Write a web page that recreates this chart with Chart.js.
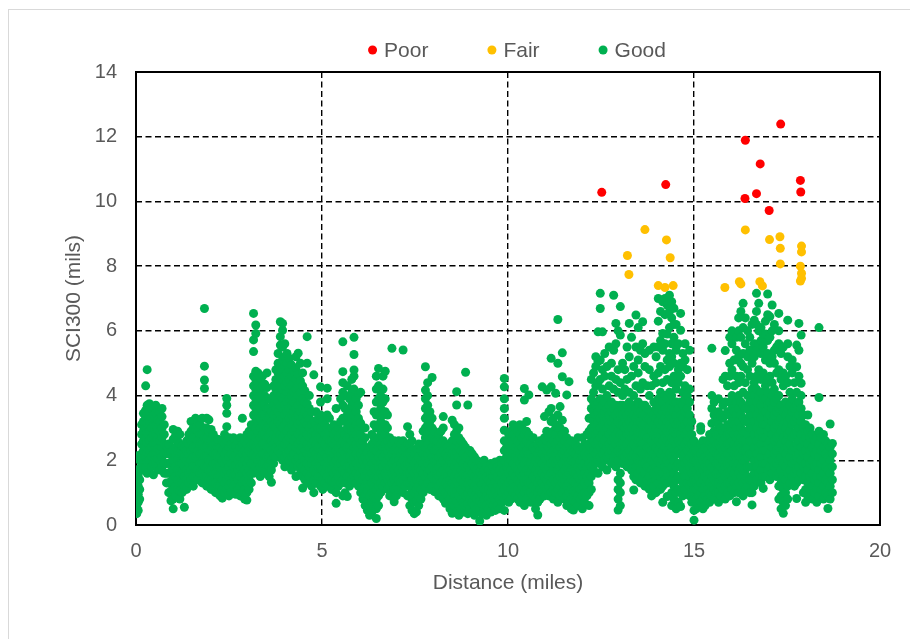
<!DOCTYPE html>
<html lang="en">
<head>
  <meta charset="UTF-8">
  <title>SCI300 vs Distance</title>
  <style>
    html, body {
      margin: 0;
      padding: 0;
      background: #fff;
    }
    body {
      width: 910px;
      height: 639px;
      position: relative;
      overflow: hidden;
    }
    .frame {
      position: absolute;
      left: 8px;
      top: 9px;
      width: 960px;
      height: 700px;
      border: 1px solid #d9d9d9;
    }
    #chart {
      position: absolute;
      left: 0;
      top: 0;
    }
  </style>
  <script src="https://cdn.jsdelivr.net/npm/chart.js"></script>
</head>
<body>
  <div class="frame"></div>
  <canvas id="chart" width="910" height="639"></canvas>

  <script>
    // axis ticks
    const xTicks = [0, 5, 10, 15, 20];
    const yTicks = [0, 2, 4, 6, 8, 10, 12, 14];

    // Poor (SCI300 > ~9.7)
    const poorX = [12.52, 14.24, 17.33, 16.38, 16.78, 17.86, 17.87, 16.37, 16.68, 17.02];
    const poorY = [10.28, 10.52, 12.39, 11.89, 11.16, 10.65, 10.29, 10.09, 10.24, 9.72];

    // Fair
    const fairX = [13.68, 14.26, 13.21, 14.36, 13.25, 14.04, 14.44, 14.22, 16.38, 17.03, 17.31, 17.32,
                   17.32, 17.89, 17.89, 17.86, 17.89, 17.86, 15.83, 16.22, 16.26, 16.77, 16.84, 17.89];
    const fairY = [9.13, 8.81, 8.33, 8.26, 7.74, 7.40, 7.40, 7.34, 9.12, 8.82, 8.91, 8.55,
                   8.07, 8.62, 8.44, 8.00, 7.78, 7.54, 7.34, 7.52, 7.45, 7.52, 7.39, 7.62];

    // Good: each row is [distance, SCI300 readings at that distance...]
    const goodCols = [
      [0.02, 0.35, 0.55, 0.8, 1.05, 1.3],
      [0.06, 0.45, 0.7, 0.95, 1.2, 1.55, 2.15],
      [0.10, 0.8, 1.1, 1.4, 1.75, 2.0],
      [0.15, 1.9, 2.2, 2.5, 2.8, 3.1],
      [0.20, 1.7, 2.0, 2.3, 2.6, 2.9, 3.2, 3.45],
      [0.26, 1.8, 2.1, 2.4, 2.7, 3.0, 3.3, 3.55, 4.3],
      [0.30, 1.6, 1.95, 2.25, 2.55, 2.85, 3.15, 3.45, 3.7, 4.8],
      [0.36, 2.0, 2.3, 2.6, 2.9, 3.2, 3.5, 3.75],
      [0.42, 1.8, 2.1, 2.4, 2.7, 3.0, 3.3, 3.6],
      [0.47, 1.55, 1.9, 2.2, 2.5, 2.8, 3.1, 3.4, 3.65],
      [0.53, 1.9, 2.2, 2.5, 2.8, 3.1, 3.45, 3.7],
      [0.58, 1.75, 2.05, 2.35, 2.65, 2.95, 3.25, 3.55],
      [0.64, 1.7, 2.0, 2.3, 2.6, 2.9, 3.2, 3.5],
      [0.70, 1.8, 2.1, 2.4, 2.7, 3.0, 3.35, 3.6],
      [0.76, 1.6, 1.9, 2.2, 2.5, 2.8, 3.1],
      [0.82, 1.3, 1.6, 1.9, 2.2, 2.45],
      [0.88, 1.0, 1.3, 1.6, 1.9, 2.2, 2.5],
      [0.94, 0.75, 1.05, 1.35, 1.65, 1.95, 2.25],
      [1.00, 0.5, 0.8, 1.1, 1.4, 1.7, 2.0, 2.3, 2.65, 2.95],
      [1.06, 0.9, 1.2, 1.5, 1.8, 2.1, 2.4, 2.75],
      [1.12, 1.1, 1.4, 1.7, 2.0, 2.3, 2.6, 2.9],
      [1.18, 0.8, 1.05, 1.3, 1.6, 1.9, 2.2, 2.5, 2.8],
      [1.24, 1.0, 1.3, 1.6, 1.9, 2.2, 2.45],
      [1.30, 0.55, 1.2, 1.5, 1.8, 2.1, 2.4],
      [1.36, 1.1, 1.4, 1.7, 2.0, 2.3, 2.6],
      [1.42, 1.3, 1.6, 1.9, 2.2, 2.5, 2.8],
      [1.48, 1.4, 1.7, 2.0, 2.3, 2.6, 2.9, 3.2],
      [1.54, 1.2, 1.5, 1.8, 2.1, 2.4, 2.7, 3.0],
      [1.60, 1.5, 1.8, 2.1, 2.4, 2.7, 3.0, 3.3],
      [1.66, 1.4, 1.7, 2.0, 2.3, 2.6, 2.9, 3.2],
      [1.72, 1.6, 1.9, 2.2, 2.5, 2.8, 3.1],
      [1.78, 1.3, 1.6, 1.9, 2.2, 2.5, 2.8, 3.3],
      [1.84, 1.5, 1.8, 2.1, 2.4, 2.7, 3.0, 4.22, 4.48, 4.91, 6.69],
      [1.90, 1.2, 1.5, 1.8, 2.1, 2.4, 2.7, 3.0, 3.3],
      [1.96, 1.4, 1.7, 2.0, 2.3, 2.6, 2.9, 3.25],
      [2.02, 1.1, 1.4, 1.7, 2.0, 2.3, 2.6, 2.95],
      [2.08, 1.3, 1.6, 1.9, 2.2, 2.5, 2.8],
      [2.14, 1.0, 1.3, 1.6, 1.9, 2.2, 2.5],
      [2.20, 1.2, 1.5, 1.8, 2.1, 2.4, 2.65],
      [2.26, 0.9, 1.2, 1.5, 1.8, 2.1, 2.4],
      [2.32, 0.83, 1.1, 1.4, 1.7, 2.0, 2.3, 2.6],
      [2.38, 1.0, 1.3, 1.6, 1.9, 2.2, 2.5, 2.8],
      [2.44, 1.1, 1.4, 1.7, 2.0, 2.3, 2.6, 3.04, 3.45, 3.7, 3.91],
      [2.50, 0.9, 1.2, 1.5, 1.8, 2.1, 2.4, 2.7],
      [2.56, 1.0, 1.3, 1.6, 1.9, 2.2, 2.5],
      [2.62, 1.2, 1.5, 1.8, 2.1, 2.4, 2.7],
      [2.68, 0.95, 1.25, 1.55, 1.85, 2.15, 2.45],
      [2.74, 1.1, 1.4, 1.7, 2.0, 2.3, 2.6],
      [2.80, 0.9, 1.2, 1.5, 1.8, 2.1, 2.4, 2.7],
      [2.86, 1.0, 1.3, 1.6, 1.9, 2.2, 2.5, 3.3],
      [2.92, 0.8, 1.1, 1.4, 1.7, 2.0, 2.3, 2.6],
      [2.98, 0.77, 1.0, 1.3, 1.6, 1.9, 2.2, 2.5, 2.8],
      [3.04, 1.1, 1.4, 1.7, 2.0, 2.3, 2.6, 2.9],
      [3.10, 1.3, 1.6, 1.9, 2.2, 2.5, 2.8, 3.1],
      [3.16, 1.6, 1.9, 2.2, 2.5, 2.8, 3.1, 3.4, 3.7, 4.0, 4.3, 4.6, 5.36, 5.72, 6.54],
      [3.22, 1.8, 2.1, 2.4, 2.7, 3.0, 3.3, 3.6, 3.9, 4.2, 4.5, 4.75, 5.92, 6.18],
      [3.28, 1.7, 2.0, 2.3, 2.6, 2.9, 3.2, 3.5, 3.8, 4.1, 4.4, 4.7],
      [3.34, 1.5, 1.8, 2.1, 2.4, 2.7, 3.0, 3.3, 3.6, 3.9, 4.2, 4.55],
      [3.40, 1.9, 2.2, 2.5, 2.8, 3.1, 3.4, 3.7, 4.0, 4.3, 4.6],
      [3.46, 1.6, 1.9, 2.2, 2.5, 2.8, 3.1, 3.4, 3.7, 4.0, 4.35],
      [3.52, 1.8, 2.1, 2.4, 2.7, 3.0, 3.3, 3.6, 3.9, 4.25, 4.7],
      [3.58, 1.5, 1.8, 2.1, 2.4, 2.7, 3.0, 3.3, 3.6, 3.9],
      [3.64, 1.32, 1.7, 2.0, 2.3, 2.6, 2.9, 3.2, 3.5, 3.85],
      [3.70, 1.9, 2.2, 2.5, 2.8, 3.1, 3.4, 3.7, 4.0, 4.3],
      [3.76, 2.1, 2.4, 2.7, 3.0, 3.3, 3.6, 3.9, 4.2, 4.5, 4.8],
      [3.82, 2.3, 2.6, 2.9, 3.2, 3.5, 3.8, 4.1, 4.4, 4.7, 5.0, 5.3],
      [3.88, 2.2, 2.5, 2.8, 3.1, 3.4, 3.7, 4.0, 4.3, 4.6, 4.9, 5.56, 5.82, 6.28],
      [3.94, 2.0, 2.4, 2.7, 3.0, 3.3, 3.6, 3.9, 4.2, 4.5, 4.8, 5.1, 5.5, 6.02, 6.23],
      [4.00, 1.8, 2.1, 2.5, 2.8, 3.1, 3.4, 3.7, 4.0, 4.3, 4.6, 4.9, 5.2, 5.6],
      [4.06, 1.9, 2.2, 2.6, 2.9, 3.2, 3.5, 3.8, 4.1, 4.4, 4.7, 5.0, 5.3],
      [4.12, 2.0, 2.3, 2.7, 3.0, 3.3, 3.6, 3.9, 4.2, 4.5, 4.8, 5.15],
      [4.18, 1.7, 2.1, 2.4, 2.8, 3.1, 3.4, 3.7, 4.0, 4.3, 4.6, 4.95],
      [4.24, 1.9, 2.2, 2.6, 2.9, 3.2, 3.5, 3.8, 4.1, 4.4, 4.75],
      [4.30, 1.5, 2.0, 2.4, 2.7, 3.0, 3.3, 3.6, 3.9, 4.2, 4.5, 4.85, 5.2],
      [4.36, 1.8, 2.1, 2.5, 2.8, 3.1, 3.4, 3.7, 4.0, 4.3, 4.65, 5.31],
      [4.42, 1.6, 1.9, 2.3, 2.6, 2.9, 3.2, 3.5, 3.8, 4.1, 4.45, 5.0],
      [4.48, 1.14, 1.5, 1.8, 2.1, 2.4, 2.7, 3.0, 3.3, 3.6, 3.9, 4.3, 4.7],
      [4.54, 1.4, 1.7, 2.0, 2.3, 2.6, 2.9, 3.2, 3.5, 3.8, 4.15],
      [4.60, 1.3, 1.6, 1.9, 2.2, 2.5, 2.8, 3.1, 3.4, 3.75, 5.0, 5.82],
      [4.66, 1.5, 1.8, 2.1, 2.4, 2.7, 3.0, 3.3, 3.6, 4.0],
      [4.72, 1.2, 1.6, 1.9, 2.2, 2.5, 2.8, 3.1, 3.5],
      [4.78, 1.0, 1.4, 1.7, 2.0, 2.3, 2.6, 2.9, 3.2, 4.64],
      [4.84, 1.3, 1.6, 1.9, 2.2, 2.5, 2.8, 3.1, 3.5],
      [4.90, 1.5, 1.8, 2.1, 2.4, 2.7, 3.0, 3.3],
      [4.96, 1.2, 1.5, 1.8, 2.1, 2.4, 2.7, 3.0, 3.4, 3.8, 4.27],
      [5.02, 1.1, 1.4, 1.7, 2.0, 2.3, 2.6, 2.9, 3.2],
      [5.08, 1.3, 1.6, 1.9, 2.2, 2.5, 2.8, 3.1],
      [5.14, 1.2, 1.5, 1.8, 2.1, 2.4, 2.7, 3.0, 3.4, 3.9, 4.23],
      [5.20, 1.4, 1.7, 2.0, 2.3, 2.6, 2.9, 3.3],
      [5.26, 1.1, 1.4, 1.7, 2.0, 2.3, 2.6, 3.0],
      [5.32, 1.3, 1.6, 1.9, 2.2, 2.5, 2.8, 3.1],
      [5.38, 0.67, 1.0, 1.4, 1.7, 2.0, 2.3, 2.6, 2.9, 3.6],
      [5.44, 1.2, 1.5, 1.8, 2.1, 2.4, 2.7, 3.0],
      [5.50, 1.3, 1.6, 1.9, 2.2, 2.5, 2.8, 3.2, 3.9],
      [5.56, 0.9, 1.4, 1.7, 2.0, 2.3, 2.6, 2.9, 3.3, 3.7, 4.1, 4.4, 4.74, 5.66],
      [5.62, 1.0, 1.3, 1.6, 1.9, 2.2, 2.5, 2.8, 3.2, 3.6, 4.0],
      [5.68, 0.88, 1.5, 1.8, 2.1, 2.4, 2.7, 3.0, 3.4, 4.3],
      [5.74, 1.2, 1.5, 1.8, 2.1, 2.4, 2.7, 3.1, 3.5, 3.9],
      [5.80, 1.4, 1.7, 2.0, 2.3, 2.6, 2.9, 3.3, 3.7, 4.1, 4.5],
      [5.86, 1.5, 1.8, 2.1, 2.4, 2.7, 3.0, 3.4, 3.8, 4.2, 4.6, 4.79, 5.27, 5.8],
      [5.92, 1.3, 1.6, 1.9, 2.2, 2.5, 2.8, 3.1, 3.5, 3.9],
      [5.98, 1.2, 1.5, 1.8, 2.1, 2.4, 2.7, 3.0, 3.3, 3.7, 4.05],
      [6.04, 1.0, 1.3, 1.6, 1.9, 2.2, 2.5, 2.8, 3.15, 4.1],
      [6.10, 0.8, 1.1, 1.4, 1.7, 2.0, 2.3, 2.6],
      [6.16, 0.6, 0.9, 1.2, 1.5, 1.8, 2.1, 2.4, 2.7, 3.0],
      [6.22, 0.45, 0.75, 1.05, 1.35, 1.65, 1.95, 2.25],
      [6.28, 0.3, 0.6, 0.9, 1.2, 1.5, 1.8, 2.1, 2.4],
      [6.34, 0.4, 0.7, 1.0, 1.3, 1.6, 1.9, 2.2, 2.5, 2.8],
      [6.40, 0.55, 0.85, 1.15, 1.45, 1.75, 2.05, 2.35, 2.7, 3.1, 3.5],
      [6.46, 0.2, 0.5, 0.8, 1.1, 1.4, 1.7, 2.0, 2.3, 2.6, 3.0, 3.4, 3.8, 4.2, 4.6],
      [6.52, 0.6, 0.9, 1.2, 1.5, 1.8, 2.1, 2.4, 2.7, 3.1, 3.5, 3.9, 4.3, 4.84],
      [6.58, 1.0, 1.3, 1.6, 1.9, 2.2, 2.5, 2.8, 3.2, 3.6, 4.0],
      [6.64, 1.2, 1.5, 1.8, 2.1, 2.4, 2.7, 3.0, 3.4, 3.8, 4.2, 4.6],
      [6.70, 1.3, 1.6, 1.9, 2.2, 2.5, 2.8, 3.1, 3.5, 3.9, 4.75],
      [6.76, 1.1, 1.4, 1.7, 2.0, 2.3, 2.6, 3.0, 3.4],
      [6.82, 0.9, 1.2, 1.5, 1.8, 2.1, 2.4, 2.7],
      [6.88, 1.0, 1.3, 1.6, 1.9, 2.2, 2.5, 5.46],
      [6.94, 0.72, 1.1, 1.4, 1.7, 2.0, 2.3, 2.6],
      [7.00, 0.9, 1.2, 1.5, 1.8, 2.1, 2.4],
      [7.06, 1.1, 1.4, 1.7, 2.0, 2.3, 2.6],
      [7.12, 1.3, 1.6, 1.9, 2.2, 2.5],
      [7.18, 1.0, 1.4, 1.7, 2.0, 2.3, 2.6, 5.41],
      [7.24, 1.2, 1.5, 1.8, 2.1, 2.4],
      [7.30, 0.9, 1.3, 1.6, 1.9, 2.2, 2.5, 3.04],
      [7.36, 0.6, 0.95, 1.3, 1.6, 1.9, 2.2, 2.5, 2.8],
      [7.42, 0.45, 0.8, 1.1, 1.4, 1.7, 2.0, 2.3, 2.6],
      [7.48, 0.35, 0.7, 1.0, 1.3, 1.6, 1.9, 2.2],
      [7.54, 0.41, 0.75, 1.1, 1.4, 1.7, 2.0, 2.35],
      [7.60, 0.6, 0.9, 1.2, 1.5, 1.8, 2.1, 2.5],
      [7.66, 0.8, 1.1, 1.4, 1.7, 2.0, 2.3],
      [7.72, 1.0, 1.3, 1.6, 1.9, 2.2, 2.5, 2.9],
      [7.78, 1.2, 1.5, 1.8, 2.1, 2.4, 2.7, 3.0, 3.3, 3.6, 3.9, 4.17, 4.89],
      [7.84, 1.3, 1.6, 1.9, 2.2, 2.5, 2.8, 3.1, 3.4, 3.7, 4.0, 4.4],
      [7.90, 1.1, 1.4, 1.7, 2.0, 2.3, 2.6, 2.9, 3.2, 3.5],
      [7.96, 1.2, 1.5, 1.8, 2.1, 2.4, 2.7, 3.0, 3.3, 4.56],
      [8.02, 1.03, 1.4, 1.7, 2.0, 2.3, 2.6, 2.9],
      [8.08, 1.08, 1.4, 1.7, 2.0, 2.3, 2.6],
      [8.14, 0.9, 1.2, 1.5, 1.8, 2.1, 2.4, 2.8],
      [8.20, 1.0, 1.3, 1.6, 1.9, 2.2, 2.5, 2.9],
      [8.26, 0.8, 1.1, 1.4, 1.7, 2.0, 2.3, 2.6, 3.0, 3.35],
      [8.32, 0.67, 1.0, 1.3, 1.6, 1.9, 2.2, 2.5],
      [8.38, 0.9, 1.2, 1.5, 1.8, 2.1, 2.4],
      [8.44, 0.5, 0.8, 1.1, 1.4, 1.7, 2.0, 2.3],
      [8.50, 0.36, 0.7, 1.0, 1.3, 1.6, 1.9, 2.2, 2.6, 3.24],
      [8.56, 0.6, 0.9, 1.2, 1.5, 1.8, 2.1, 2.4, 2.8, 3.1],
      [8.62, 0.4, 0.75, 1.05, 1.35, 1.65, 1.95, 2.25, 2.6, 2.9, 3.71, 4.12],
      [8.68, 0.3, 0.6, 0.9, 1.2, 1.5, 1.8, 2.1, 2.4, 2.7, 3.0],
      [8.74, 0.5, 0.8, 1.1, 1.4, 1.7, 2.0, 2.3, 2.6],
      [8.80, 0.4, 0.7, 1.0, 1.3, 1.6, 1.9, 2.2, 2.5],
      [8.86, 0.6, 0.9, 1.2, 1.5, 1.8, 2.1, 2.4, 4.72],
      [8.92, 0.35, 0.65, 0.95, 1.25, 1.55, 1.85, 2.15, 3.71],
      [8.98, 0.5, 0.8, 1.1, 1.4, 1.7, 2.0, 2.3],
      [9.04, 0.4, 0.7, 1.0, 1.3, 1.6, 1.9, 2.2],
      [9.10, 0.3, 0.6, 0.9, 1.2, 1.5, 1.8, 2.1],
      [9.16, 0.5, 0.8, 1.1, 1.4, 1.7, 2.0],
      [9.24, 0.12, 0.45, 0.75, 1.05, 1.35, 1.65, 1.95],
      [9.30, 0.35, 0.65, 0.95, 1.25, 1.55, 1.85],
      [9.36, 0.5, 0.8, 1.1, 1.4, 1.7, 2.0],
      [9.42, 0.3, 0.6, 0.9, 1.2, 1.5, 1.8],
      [9.48, 0.5, 0.8, 1.1, 1.4, 1.7],
      [9.54, 0.4, 0.7, 1.0, 1.3, 1.6, 1.9],
      [9.60, 0.6, 0.9, 1.2, 1.5, 1.8],
      [9.66, 0.45, 0.75, 1.05, 1.35, 1.65, 1.95],
      [9.72, 0.6, 0.9, 1.2, 1.5, 1.8],
      [9.78, 0.5, 0.8, 1.1, 1.4, 1.7, 2.0],
      [9.84, 0.7, 1.0, 1.3, 1.6, 1.9],
      [9.90, 0.45, 0.8, 1.1, 1.4, 1.7, 2.0, 2.3, 2.6, 2.93, 3.3, 3.6, 3.9, 4.27, 4.53],
      [9.96, 0.9, 1.2, 1.5, 1.8, 2.1, 2.4],
      [10.02, 0.7, 1.0, 1.3, 1.6, 1.9, 2.2, 2.5, 2.8],
      [10.08, 0.8, 1.1, 1.4, 1.7, 2.0, 2.3, 2.6, 2.9],
      [10.14, 1.0, 1.3, 1.6, 1.9, 2.2, 2.5, 2.8, 3.1],
      [10.20, 0.9, 1.2, 1.5, 1.8, 2.1, 2.4, 2.7, 3.0],
      [10.26, 0.8, 1.1, 1.4, 1.7, 2.0, 2.3, 2.6, 2.9],
      [10.32, 0.7, 1.0, 1.3, 1.6, 1.9, 2.2, 2.5, 2.8, 3.1],
      [10.38, 0.9, 1.2, 1.5, 1.8, 2.1, 2.4, 2.7, 3.0],
      [10.44, 0.6, 1.0, 1.3, 1.6, 1.9, 2.2, 2.5, 2.8, 3.86, 4.22],
      [10.50, 0.8, 1.1, 1.4, 1.7, 2.0, 2.3, 2.6, 2.9, 3.2],
      [10.56, 1.0, 1.3, 1.6, 1.9, 2.2, 2.5, 2.8, 4.02],
      [10.62, 0.7, 1.0, 1.3, 1.6, 1.9, 2.2, 2.5],
      [10.68, 0.9, 1.2, 1.5, 1.8, 2.1, 2.4, 2.7],
      [10.74, 0.5, 0.8, 1.1, 1.4, 1.7, 2.0, 2.3],
      [10.80, 0.31, 0.7, 1.0, 1.3, 1.6, 1.9, 2.2, 2.5],
      [10.86, 0.8, 1.1, 1.4, 1.7, 2.0, 2.3, 2.6],
      [10.92, 1.0, 1.3, 1.6, 1.9, 2.2, 2.5, 4.27],
      [10.98, 0.9, 1.2, 1.5, 1.8, 2.1, 2.4, 2.7, 3.35],
      [11.04, 1.1, 1.4, 1.7, 2.0, 2.3, 2.6, 2.9, 4.17],
      [11.10, 0.9, 1.2, 1.5, 1.8, 2.1, 2.4, 2.7, 3.5],
      [11.16, 1.0, 1.3, 1.6, 1.9, 2.2, 2.5, 2.8, 3.2, 3.6, 4.27, 5.15],
      [11.22, 0.8, 1.1, 1.4, 1.7, 2.0, 2.3, 2.6, 2.9, 3.3],
      [11.28, 1.0, 1.3, 1.6, 1.9, 2.2, 2.5, 2.8, 3.1, 4.07],
      [11.34, 0.7, 1.1, 1.4, 1.7, 2.0, 2.3, 2.6, 3.0, 3.4, 5.0, 6.35],
      [11.40, 0.9, 1.2, 1.5, 1.8, 2.1, 2.4, 2.7, 3.0, 3.66],
      [11.46, 1.0, 1.3, 1.6, 1.9, 2.2, 2.5, 2.8, 3.24, 4.58, 5.32],
      [11.52, 0.8, 1.1, 1.4, 1.7, 2.0, 2.3, 2.6, 2.9],
      [11.58, 0.6, 0.9, 1.2, 1.5, 1.8, 2.1, 2.4, 2.7, 4.02],
      [11.64, 0.7, 1.0, 1.3, 1.6, 1.9, 2.2, 2.5, 4.43],
      [11.70, 0.5, 0.8, 1.1, 1.4, 1.7, 2.0, 2.3, 2.6],
      [11.76, 0.46, 0.75, 1.05, 1.35, 1.65, 1.95, 2.25],
      [11.82, 0.7, 1.0, 1.3, 1.6, 1.9, 2.2, 2.5],
      [11.88, 0.6, 0.9, 1.2, 1.5, 1.8, 2.1, 2.4, 2.7],
      [11.94, 0.8, 1.1, 1.4, 1.7, 2.0, 2.3],
      [12.00, 0.5, 0.9, 1.2, 1.5, 1.8, 2.1, 2.4, 2.7],
      [12.06, 0.7, 1.0, 1.3, 1.6, 1.9, 2.2, 2.5],
      [12.12, 0.9, 1.2, 1.5, 1.8, 2.1, 2.4, 2.8],
      [12.18, 0.6, 1.0, 1.3, 1.6, 1.9, 2.2, 2.5, 2.9, 3.3],
      [12.24, 1.1, 1.5, 1.8, 2.1, 2.4, 2.7, 3.0, 3.3, 3.6, 3.9, 4.5],
      [12.30, 1.7, 2.0, 2.3, 2.6, 2.9, 3.2, 3.5, 3.8, 4.1, 4.7],
      [12.36, 1.9, 2.2, 2.5, 2.8, 3.1, 3.4, 3.7, 4.3, 4.9, 5.2],
      [12.42, 1.6, 2.0, 2.3, 2.6, 2.9, 3.2, 3.5, 3.8, 4.4, 5.05, 5.97],
      [12.48, 2.1, 2.4, 2.7, 3.0, 3.3, 3.6, 3.9, 4.5, 5.1, 6.69, 7.16],
      [12.54, 1.8, 2.2, 2.5, 2.8, 3.1, 3.4, 3.7, 4.2, 4.8, 5.97],
      [12.60, 2.0, 2.3, 2.6, 2.9, 3.2, 3.5, 3.8, 4.6, 5.3],
      [12.66, 1.7, 2.1, 2.4, 2.7, 3.0, 3.3, 3.6, 4.0, 4.9],
      [12.72, 2.2, 2.5, 2.8, 3.1, 3.4, 3.7, 4.3, 5.5],
      [12.78, 1.9, 2.3, 2.6, 2.9, 3.2, 3.5, 3.8, 4.6, 5.0],
      [12.84, 2.1, 2.4, 2.7, 3.0, 3.3, 3.6, 4.2, 5.4, 7.1],
      [12.90, 1.8, 2.2, 2.5, 2.8, 3.1, 3.4, 3.7, 4.5, 5.6, 6.23],
      [12.96, 0.46, 0.8, 1.1, 1.4, 2.0, 2.3, 2.6, 2.9, 3.2, 3.5, 4.1, 4.8, 6.0],
      [13.02, 0.6, 1.0, 1.3, 1.6, 2.2, 2.5, 2.8, 3.1, 3.4, 3.7, 4.4, 5.87, 6.75],
      [13.08, 1.9, 2.2, 2.5, 2.8, 3.1, 3.4, 3.7, 4.0, 5.0],
      [13.14, 2.1, 2.4, 2.7, 3.0, 3.3, 3.6, 4.2, 4.8],
      [13.20, 1.8, 2.2, 2.5, 2.8, 3.1, 3.4, 3.7, 4.5, 5.5],
      [13.26, 2.0, 2.3, 2.6, 2.9, 3.2, 3.5, 3.8, 4.1, 5.2, 6.23],
      [13.32, 1.7, 2.1, 2.4, 2.7, 3.0, 3.3, 3.6, 4.6, 5.8],
      [13.38, 1.08, 1.5, 1.9, 2.2, 2.5, 2.8, 3.1, 3.4, 3.7, 4.0, 4.9],
      [13.44, 1.4, 1.8, 2.1, 2.4, 2.7, 3.0, 3.3, 3.6, 4.3, 5.5, 6.49],
      [13.50, 1.6, 2.0, 2.3, 2.6, 2.9, 3.2, 3.5, 3.8, 4.7, 5.1, 6.1],
      [13.56, 1.3, 1.7, 2.0, 2.3, 2.6, 2.9, 3.2, 3.5, 4.2, 5.4],
      [13.62, 1.5, 1.9, 2.2, 2.5, 2.8, 3.1, 3.4, 3.7, 4.4, 5.6, 6.28],
      [13.68, 1.2, 1.6, 1.9, 2.2, 2.5, 2.8, 3.1, 3.4, 3.7, 4.9, 5.3],
      [13.74, 1.4, 1.8, 2.1, 2.4, 2.7, 3.0, 3.3, 3.6, 4.3],
      [13.80, 1.1, 1.5, 1.8, 2.1, 2.4, 2.7, 3.0, 3.3, 4.0, 4.8, 5.4],
      [13.86, 0.9, 1.3, 1.7, 2.0, 2.3, 2.6, 2.9, 3.2, 3.5, 4.3],
      [13.92, 1.2, 1.6, 1.9, 2.2, 2.5, 2.8, 3.1, 3.4, 3.8, 4.6, 5.5],
      [13.98, 1.0, 1.4, 1.8, 2.1, 2.4, 2.7, 3.0, 3.3, 3.6, 4.4, 5.2],
      [14.04, 1.3, 1.7, 2.0, 2.3, 2.6, 2.9, 3.2, 3.5, 3.9, 4.7, 5.5, 6.3, 7.0],
      [14.10, 1.1, 1.5, 1.9, 2.2, 2.5, 2.8, 3.1, 3.4, 3.7, 4.1, 4.9, 5.7, 6.6],
      [14.16, 0.7, 1.2, 1.6, 2.0, 2.3, 2.6, 2.9, 3.2, 3.5, 3.8, 4.4, 5.4, 5.92, 6.9],
      [14.22, 1.4, 1.8, 2.1, 2.4, 2.7, 3.0, 3.3, 3.6, 4.0, 4.8, 5.6, 6.5, 7.0],
      [14.28, 0.88, 1.3, 1.7, 2.0, 2.3, 2.6, 2.9, 3.2, 3.5, 3.9, 4.5, 5.1, 5.9, 6.8],
      [14.34, 1.5, 1.9, 2.2, 2.5, 2.8, 3.1, 3.4, 3.7, 4.1, 4.9, 5.3, 6.1, 6.6, 7.1],
      [14.40, 0.6, 1.0, 1.4, 1.8, 2.1, 2.4, 2.7, 3.0, 3.3, 3.6, 4.0, 4.4, 5.2, 5.6, 6.4, 6.9],
      [14.46, 0.8, 1.2, 1.6, 2.0, 2.3, 2.6, 2.9, 3.2, 3.5, 3.8, 4.6, 5.0, 5.8, 6.2, 6.7],
      [14.52, 0.5, 1.0, 1.4, 1.8, 2.2, 2.5, 2.8, 3.1, 3.4, 3.8, 4.2, 5.4, 6.2],
      [14.58, 0.7, 1.1, 1.5, 1.9, 2.3, 2.6, 2.9, 3.2, 3.6, 4.4, 4.8, 5.6],
      [14.64, 0.57, 1.0, 1.4, 1.8, 2.2, 2.5, 2.8, 3.1, 3.4, 3.8, 4.6, 5.0, 6.02, 6.54],
      [14.70, 0.9, 1.3, 1.7, 2.1, 2.4, 2.7, 3.0, 3.3, 3.7, 4.1, 4.9, 5.3],
      [14.76, 1.1, 1.5, 1.9, 2.2, 2.5, 2.8, 3.1, 3.5, 3.9, 4.3, 5.1, 5.6],
      [14.82, 1.3, 1.7, 2.0, 2.3, 2.6, 2.9, 3.2, 3.6, 4.0, 4.8],
      [14.88, 0.9, 1.2, 1.5, 1.8, 2.1, 2.4, 2.7, 3.0, 3.4, 3.8, 4.2, 5.4],
      [14.94, 0.7, 1.0, 1.3, 1.6, 1.9, 2.2, 2.5, 2.8, 3.2],
      [15.00, 0.15, 0.45, 0.8, 1.1, 1.4, 1.7, 2.0, 2.3, 2.6],
      [15.06, 0.5, 0.8, 1.1, 1.4, 1.7, 2.0, 2.3],
      [15.12, 0.6, 0.9, 1.2, 1.5, 1.8, 2.1, 2.4],
      [15.18, 0.7, 1.0, 1.3, 1.6, 1.9, 2.2, 2.5, 2.93, 3.04],
      [15.24, 0.5, 0.8, 1.1, 1.4, 1.7, 2.0, 2.3, 2.6],
      [15.30, 0.6, 0.9, 1.2, 1.5, 1.8, 2.1, 2.4],
      [15.36, 0.8, 1.1, 1.4, 1.7, 2.0, 2.3, 2.6],
      [15.42, 0.7, 1.0, 1.3, 1.6, 1.9, 2.2, 2.5, 2.8],
      [15.48, 0.9, 1.2, 1.5, 1.8, 2.1, 2.4, 2.7, 3.14, 3.6, 4.0, 5.46],
      [15.54, 0.8, 1.1, 1.4, 1.7, 2.0, 2.3, 2.6, 2.9, 3.4, 3.8],
      [15.60, 1.0, 1.3, 1.6, 1.9, 2.2, 2.5, 2.8, 3.2],
      [15.66, 0.7, 1.0, 1.3, 1.6, 1.9, 2.2, 2.5, 2.8, 3.1, 3.5, 3.9],
      [15.72, 0.9, 1.2, 1.5, 1.8, 2.1, 2.4, 2.7, 3.0, 3.4],
      [15.78, 1.1, 1.4, 1.7, 2.0, 2.3, 2.6, 2.9, 3.3, 3.7, 4.5],
      [15.84, 0.8, 1.2, 1.5, 1.8, 2.1, 2.4, 2.7, 3.0, 3.4, 3.8, 4.6, 5.39],
      [15.90, 1.0, 1.3, 1.6, 1.9, 2.2, 2.5, 2.8, 3.1, 3.5, 4.3],
      [15.96, 0.9, 1.3, 1.6, 1.9, 2.2, 2.5, 2.8, 3.1, 3.4, 3.8, 4.6, 5.0, 5.8],
      [16.02, 1.1, 1.4, 1.7, 2.0, 2.3, 2.6, 2.9, 3.2, 3.6, 4.0, 4.8, 5.6, 6.0],
      [16.08, 1.0, 1.3, 1.6, 1.9, 2.2, 2.5, 2.8, 3.1, 3.5, 4.3, 5.1],
      [16.14, 0.72, 1.2, 1.5, 1.8, 2.1, 2.4, 2.7, 3.0, 3.4, 3.8, 4.6, 5.4, 5.8],
      [16.20, 1.0, 1.3, 1.6, 1.9, 2.2, 2.5, 2.8, 3.2, 3.6, 4.0, 4.4, 5.2, 6.0, 6.4],
      [16.26, 1.2, 1.5, 1.8, 2.1, 2.4, 2.7, 3.0, 3.4, 3.8, 4.6, 5.0, 5.8, 6.6],
      [16.32, 0.9, 1.3, 1.7, 2.0, 2.3, 2.6, 2.9, 3.3, 3.7, 4.1, 4.9, 5.3, 6.1, 6.85],
      [16.38, 1.1, 1.4, 1.7, 2.0, 2.3, 2.6, 2.9, 3.2, 3.6, 4.4, 5.6, 6.4],
      [16.44, 1.2, 1.5, 1.8, 2.1, 2.4, 2.8, 3.2, 3.6, 4.0, 4.8, 5.2, 6.0],
      [16.50, 1.0, 1.4, 1.8, 2.2, 2.6, 3.0, 3.4, 3.8, 4.6, 5.4, 5.8],
      [16.56, 0.62, 1.0, 1.4, 1.8, 2.2, 2.6, 3.0, 3.4, 3.8, 4.2, 5.0, 6.2],
      [16.62, 1.2, 1.6, 2.0, 2.4, 2.8, 3.2, 3.6, 4.0, 4.4, 5.2, 5.6, 6.33],
      [16.68, 1.4, 1.8, 2.2, 2.6, 3.0, 3.4, 3.8, 4.2, 4.6, 5.4, 6.2, 6.6, 7.16],
      [16.74, 1.6, 2.0, 2.4, 2.8, 3.2, 3.6, 4.0, 4.8, 5.6, 6.0, 6.85],
      [16.80, 1.3, 1.7, 2.1, 2.5, 2.9, 3.3, 3.7, 4.1, 4.5, 5.3, 5.7, 6.1],
      [16.86, 1.13, 1.5, 1.9, 2.3, 2.7, 3.1, 3.5, 3.9, 4.7, 5.5, 5.9],
      [16.92, 1.5, 1.9, 2.3, 2.7, 3.1, 3.5, 3.9, 4.3, 5.1, 5.9, 6.3],
      [16.98, 1.7, 2.1, 2.5, 2.9, 3.3, 3.7, 4.1, 4.5, 5.3, 5.7, 6.5, 7.14],
      [17.04, 1.4, 1.8, 2.2, 2.6, 3.0, 3.4, 3.8, 4.6, 5.0, 5.8, 6.44],
      [17.10, 1.6, 2.0, 2.4, 2.8, 3.2, 3.6, 4.0, 4.4, 5.2, 6.0, 6.8],
      [17.16, 1.8, 2.2, 2.6, 3.0, 3.4, 3.8, 4.2, 5.0, 5.4, 6.2],
      [17.22, 1.5, 1.9, 2.3, 2.7, 3.1, 3.5, 3.9, 4.7, 5.5],
      [17.28, 0.8, 1.2, 1.6, 2.0, 2.4, 2.8, 3.2, 3.6, 4.0, 4.8, 5.6, 6.0, 6.54],
      [17.34, 0.5, 0.9, 1.3, 1.7, 2.1, 2.5, 2.9, 3.3, 3.7, 4.5, 5.3],
      [17.40, 0.36, 0.7, 1.1, 1.5, 1.9, 2.3, 2.7, 3.1, 3.5, 4.3, 4.7, 5.5],
      [17.46, 0.6, 1.0, 1.4, 1.8, 2.2, 2.6, 3.0, 3.4, 3.8, 4.6],
      [17.52, 0.8, 1.2, 1.6, 2.0, 2.4, 2.8, 3.2, 3.6, 4.4, 5.2, 5.6, 6.33],
      [17.58, 1.3, 1.7, 2.1, 2.5, 2.9, 3.3, 3.7, 4.1, 4.9],
      [17.64, 1.5, 1.9, 2.3, 2.7, 3.1, 3.5, 3.9, 4.7, 5.1],
      [17.70, 1.2, 1.6, 2.0, 2.4, 2.8, 3.2, 3.6, 4.4],
      [17.76, 0.82, 1.3, 1.7, 2.1, 2.5, 2.9, 3.3, 3.7, 4.1, 4.89, 5.56],
      [17.82, 1.4, 1.8, 2.2, 2.6, 3.0, 3.4, 3.8, 4.6, 5.4, 6.23],
      [17.88, 1.6, 2.0, 2.4, 2.8, 3.2, 3.6, 4.0, 4.38, 5.87],
      [17.94, 1.0, 1.4, 1.8, 2.2, 2.6, 3.0, 3.4],
      [18.00, 0.7, 1.1, 1.5, 1.9, 2.3, 2.7, 3.1],
      [18.06, 0.9, 1.3, 1.7, 2.1, 2.5, 2.9, 3.4],
      [18.12, 1.1, 1.5, 1.9, 2.3, 2.7, 3.0],
      [18.18, 0.8, 1.2, 1.6, 2.0, 2.4, 2.8],
      [18.24, 1.0, 1.4, 1.8, 2.2, 2.6],
      [18.30, 0.7, 1.1, 1.5, 1.9, 2.3, 2.7],
      [18.36, 0.9, 1.3, 1.7, 2.1, 2.5, 2.9, 3.94, 6.1],
      [18.42, 1.1, 1.5, 1.9, 2.3, 2.7],
      [18.48, 0.8, 1.2, 1.6, 2.0, 2.4, 2.8],
      [18.54, 1.0, 1.4, 1.8, 2.2, 2.6],
      [18.60, 0.51, 0.9, 1.3, 1.7, 2.1, 2.5],
      [18.66, 0.8, 1.2, 1.6, 2.0, 2.4, 3.12],
      [18.72, 1.0, 1.4, 1.8, 2.2, 2.52]
    ];

    const FONT = "'Liberation Sans', Arial, sans-serif";
    const TEXT = '#595959';

    function toPoints(xs, ys) {
      return xs.map((x, i) => ({ x: x, y: ys[i] }));
    }

    const goodPoints = [];
    goodCols.forEach(col => {
      col.slice(1).forEach(y => goodPoints.push({ x: col[0], y: y }));
    });

    // plot frame (solid box around the plot area)
    const framePlugin = {
      id: 'plotFrame',
      beforeDatasetsDraw(chart) {
        const a = chart.chartArea;
        const ctx = chart.ctx;
        ctx.save();
        ctx.strokeStyle = '#000';
        ctx.lineWidth = 2;
        ctx.strokeRect(a.left, a.top, a.right - a.left, a.bottom - a.top);
        ctx.restore();
      }
    };

    // legend row above the plot, in dataset order
    const legendPlugin = {
      id: 'topLegend',
      afterDraw(chart) {
        const ctx = chart.ctx;
        const r = 4.5, gap = 7, spacing = 59;
        ctx.save();
        ctx.font = '21px ' + FONT;
        ctx.textBaseline = 'middle';
        const items = chart.data.datasets.map(ds => ({
          label: ds.label, color: ds.backgroundColor, w: ctx.measureText(ds.label).width
        }));
        let total = 0;
        items.forEach((it, i) => { total += 2 * r + gap + it.w + (i ? spacing : 0); });
        let x = 517 - total / 2;
        const y = 50;
        items.forEach(it => {
          ctx.fillStyle = it.color;
          ctx.beginPath();
          ctx.arc(x + r, y, r, 0, Math.PI * 2);
          ctx.fill();
          ctx.fillStyle = TEXT;
          ctx.fillText(it.label, x + 2 * r + gap, y + 1);
          x += 2 * r + gap + it.w + spacing;
        });
        ctx.restore();
      }
    };

    const gridDash = [6, 3.5];

    new Chart(document.getElementById('chart'), {
      type: 'scatter',
      data: {
        datasets: [
          { label: 'Poor', data: toPoints(poorX, poorY), backgroundColor: '#FF0000', order: 3 },
          { label: 'Fair', data: toPoints(fairX, fairY), backgroundColor: '#FFC000', order: 2 },
          { label: 'Good', data: goodPoints, backgroundColor: '#00B050', order: 1 }
        ]
      },
      options: {
        responsive: false,
        animation: false,
        events: [],
        layout: { padding: { left: 0, right: 30, top: 72, bottom: 0 } },
        elements: {
          point: { radius: 4.5, hoverRadius: 4.5, borderWidth: 0 }
        },
        plugins: {
          legend: { display: false },
          tooltip: { enabled: false }
        },
        scales: {
          x: {
            type: 'linear',
            min: xTicks[0],
            max: xTicks[xTicks.length - 1],
            afterBuildTicks: s => { s.ticks = xTicks.map(v => ({ value: v })); },
            afterFit: s => { s.height = 114; },
            ticks: { color: TEXT, font: { family: FONT, size: 20 }, padding: 14 },
            grid: { color: '#000', lineWidth: 1.4, drawTicks: false, borderDash: gridDash },
            border: { display: false, dash: gridDash },
            title: {
              display: true,
              text: 'Distance (miles)',
              color: TEXT,
              font: { family: FONT, size: 21 },
              padding: { top: 0, bottom: 43 }
            }
          },
          y: {
            type: 'linear',
            min: yTicks[0],
            max: yTicks[yTicks.length - 1],
            afterBuildTicks: s => { s.ticks = yTicks.map(v => ({ value: v })); },
            afterFit: s => { s.width = 136; },
            ticks: { color: TEXT, font: { family: FONT, size: 20 }, padding: 19 },
            grid: { color: '#000', lineWidth: 1.4, drawTicks: false, borderDash: gridDash },
            border: { display: false, dash: gridDash },
            title: {
              display: true,
              text: 'SCI300 (mils)',
              color: TEXT,
              font: { family: FONT, size: 21 },
              padding: { top: 62, bottom: 0 }
            }
          }
        }
      },
      plugins: [framePlugin, legendPlugin]
    });
  </script>
</body>
</html>
